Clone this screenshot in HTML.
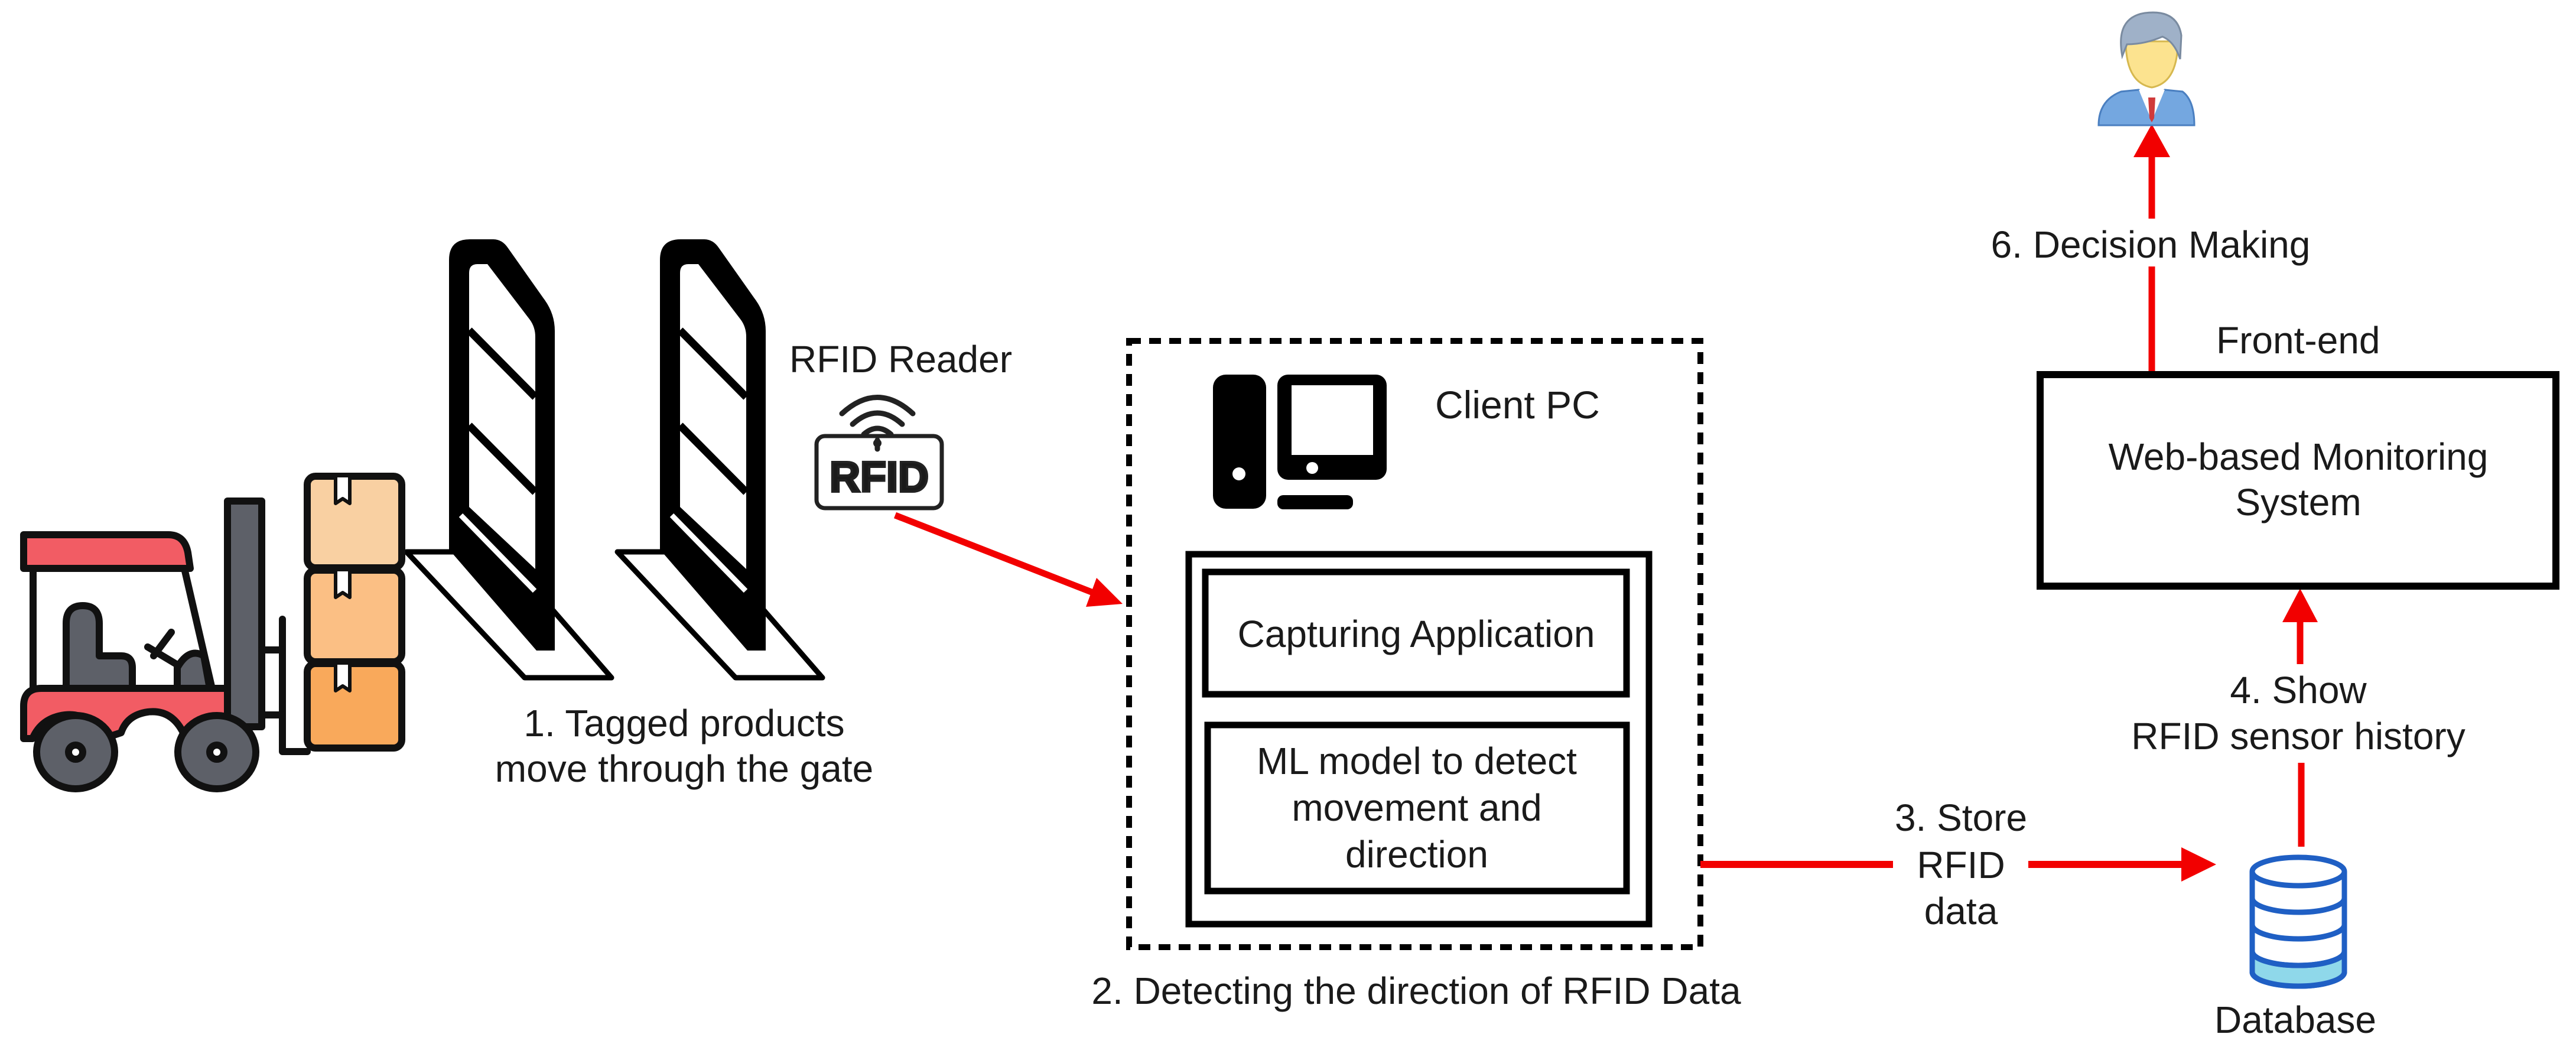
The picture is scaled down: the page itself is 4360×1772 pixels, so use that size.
<!DOCTYPE html>
<html><head><meta charset="utf-8"><style>
html,body{margin:0;padding:0;background:#fff;}
svg{display:block;}
text{font-family:"Liberation Sans",Arial,sans-serif;fill:#1a1a1a;}
</style></head><body>
<svg width="4360" height="1772" viewBox="0 0 4360 1772" xmlns="http://www.w3.org/2000/svg">
<rect width="4360" height="1772" fill="#fff"/>

<!-- Gate bases -->
<g id="gate">
<polygon points="688,934 850,934 1035,1147 888,1147" fill="#fff" stroke="#000" stroke-width="9" stroke-linejoin="round"/>
<path d="M760,440 Q760,405 795,405 L835,405 Q850,405 860,420 L920,505 Q939,530 939,560 L939,1101 L908,1101 L760,930 Z" fill="#000"/>
<path d="M794,462 Q794,447 808,447 L825,447 L896,540 Q906,553 906,570 L906,963 L794,858 Z" fill="#fff"/>
<line x1="794" y1="559" x2="906" y2="672" stroke="#000" stroke-width="13"/>
<line x1="794" y1="720" x2="906" y2="833" stroke="#000" stroke-width="13"/>
<line x1="780" y1="872" x2="905" y2="1000" stroke="#fff" stroke-width="9"/>
</g>
<use href="#gate" x="357" y="0"/>

<!-- Forklift -->
<g stroke="#111" stroke-width="12" stroke-linejoin="round" stroke-linecap="round">
<!-- cab frame -->
<line x1="56" y1="960" x2="56" y2="1165" />
<line x1="312" y1="962" x2="360" y2="1170"/>
<!-- canopy -->
<path d="M40,905 L285,905 Q312,905 318,935 L322,962 L40,962 Z" fill="#f25c64"/>
<!-- mast -->
<rect x="385" y="848" width="58" height="382" fill="#5d6068"/>
<!-- fork -->
<path d="M478,1048 L478,1272 L520,1272" fill="none"/>
<line x1="443" y1="1100" x2="478" y2="1100"/>
<line x1="443" y1="1210" x2="478" y2="1210"/>
<!-- seat -->
<path d="M112,1055 Q112,1025 140,1025 Q168,1025 168,1055 L168,1110 L205,1110 Q224,1110 224,1130 L224,1165 L112,1165 Z" fill="#5d6068"/>
<!-- steering -->
<line x1="290" y1="1070" x2="260" y2="1110"/>
<line x1="250" y1="1095" x2="300" y2="1125"/>
<path d="M300,1165 L300,1130 Q320,1095 345,1110 L355,1165 Z" fill="#5d6068"/>
<!-- body -->
<path d="M40,1195 Q40,1165 70,1165 L385,1165 L385,1240 L310,1240 Q290,1200 250,1205 Q215,1210 205,1240 L175,1250 Q150,1205 110,1210 Q70,1215 55,1250 L40,1250 Z" fill="#f25c64"/>
<!-- wheels -->
<ellipse cx="128" cy="1273" rx="66" ry="62" fill="#5d6068"/>
<circle cx="128" cy="1273" r="12" fill="#fff"/>
<ellipse cx="367" cy="1273" rx="66" ry="62" fill="#5d6068"/>
<circle cx="367" cy="1273" r="12" fill="#fff"/>
<!-- boxes -->
<rect x="520" y="1123" width="160" height="143" rx="14" fill="#f9a95b"/>
<rect x="520" y="965" width="160" height="155" rx="14" fill="#fbbf84"/>
<rect x="520" y="806" width="160" height="155" rx="14" fill="#f9d0a2"/>
</g>
<g fill="#fff" stroke="#111" stroke-width="6" stroke-linejoin="round">
<path d="M568,808 L568,852 L580,844 L592,852 L592,808"/>
<path d="M568,967 L568,1011 L580,1003 L592,1011 L592,967"/>
<path d="M568,1125 L568,1169 L580,1161 L592,1169 L592,1125"/>
</g>

<text x="1158" y="1246" font-size="64" text-anchor="middle">1. Tagged products</text>
<text x="1158" y="1323" font-size="64" text-anchor="middle">move through the gate</text>

<!-- RFID reader -->
<text x="1336" y="630" font-size="64">RFID Reader</text>
<g fill="none" stroke="#222" stroke-width="9" stroke-linecap="round">
<path d="M1425,700 Q1485,645 1545,700"/>
<path d="M1443,718 Q1485,680 1527,718"/>
<path d="M1462,735 Q1485,715 1508,735"/>
<line x1="1485" y1="745" x2="1485" y2="760"/>
<rect x="1382" y="738" width="212" height="122" rx="14" stroke-width="7"/>
</g>
<circle cx="1485" cy="750" r="7" fill="#222"/>
<text x="1488" y="832" font-size="72" font-weight="bold" text-anchor="middle" fill="#fff" stroke="#222" stroke-width="4">RFID</text>

<!-- arrow 1 -->
<line x1="1515" y1="872" x2="1850" y2="1003" stroke="#f20000" stroke-width="11"/>
<polygon points="1900,1022 1838,1027 1856,978" fill="#f20000"/>

<!-- Client PC dashed box -->
<rect x="1911" y="577" width="967" height="1026" fill="none" stroke="#000" stroke-width="10" stroke-dasharray="20 14"/>
<!-- computer icon -->
<rect x="2053" y="634" width="90" height="227" rx="22" fill="#000"/>
<circle cx="2097" cy="802" r="11" fill="#fff"/>
<rect x="2162" y="634" width="185" height="178" rx="18" fill="#000"/>
<rect x="2186" y="652" width="138" height="118" fill="#fff"/>
<rect x="2162" y="652" width="24" height="118" fill="#000"/>
<circle cx="2221" cy="792" r="10" fill="#fff"/>
<rect x="2162" y="838" width="128" height="24" rx="10" fill="#000"/>
<text x="2429" y="708" font-size="66">Client PC</text>

<rect x="2012" y="938" width="779" height="626" fill="none" stroke="#000" stroke-width="11"/>
<rect x="2040" y="968" width="713" height="207" fill="none" stroke="#000" stroke-width="11"/>
<text x="2397" y="1095" font-size="64" text-anchor="middle">Capturing Application</text>
<rect x="2044" y="1227" width="709" height="281" fill="none" stroke="#000" stroke-width="11"/>
<text x="2398" y="1310" font-size="64" text-anchor="middle">ML model to detect</text>
<text x="2398" y="1389" font-size="64" text-anchor="middle">movement and</text>
<text x="2398" y="1468" font-size="64" text-anchor="middle">direction</text>
<text x="2397" y="1699" font-size="64" text-anchor="middle">2. Detecting the direction of RFID Data</text>

<!-- arrow 3 -->
<line x1="2878" y1="1463" x2="3204" y2="1463" stroke="#f20000" stroke-width="12"/>
<line x1="3433" y1="1463" x2="3700" y2="1463" stroke="#f20000" stroke-width="12"/>
<polygon points="3751,1463 3692,1434 3692,1492" fill="#f20000"/>
<text x="3319" y="1406" font-size="64" text-anchor="middle">3. Store</text>
<text x="3319" y="1486" font-size="64" text-anchor="middle">RFID</text>
<text x="3319" y="1564" font-size="64" text-anchor="middle">data</text>

<!-- Database -->
<g fill="#fff" stroke="#1f5fc4" stroke-width="9">
<path d="M3812,1475 L3812,1645 A78,24 0 0 0 3968,1645 L3968,1475" fill="#fff"/>
<path d="M3812,1610 L3812,1645 A78,24 0 0 0 3968,1645 L3968,1610 A78,24 0 0 1 3812,1610 Z" fill="#8fd8ea"/>
<ellipse cx="3890" cy="1475" rx="78" ry="24"/>
<path d="M3812,1520 A78,24 0 0 0 3968,1520" fill="none"/>
<path d="M3812,1565 A78,24 0 0 0 3968,1565" fill="none"/>
<path d="M3812,1610 A78,24 0 0 0 3968,1610" fill="none"/>
</g>
<text x="3885" y="1748" font-size="64" text-anchor="middle">Database</text>

<!-- arrow 4 -->
<line x1="3895" y1="1433" x2="3895" y2="1291" stroke="#f20000" stroke-width="11"/>
<line x1="3893" y1="1124" x2="3893" y2="1045" stroke="#f20000" stroke-width="11"/>
<polygon points="3893,996 3863,1053 3923,1053" fill="#f20000"/>
<text x="3890" y="1190" font-size="64" text-anchor="middle">4. Show</text>
<text x="3890" y="1268" font-size="64" text-anchor="middle">RFID sensor history</text>

<!-- Web box -->
<rect x="3453" y="634" width="873" height="358" fill="none" stroke="#000" stroke-width="12"/>
<text x="3890" y="795" font-size="64" text-anchor="middle">Web-based Monitoring</text>
<text x="3890" y="872" font-size="64" text-anchor="middle">System</text>
<text x="3751" y="598" font-size="64">Front-end</text>

<!-- arrow 6 -->
<line x1="3642" y1="628" x2="3642" y2="451" stroke="#f20000" stroke-width="11"/>
<line x1="3642" y1="370" x2="3642" y2="255" stroke="#f20000" stroke-width="11"/>
<polygon points="3642,210 3611,266 3673,266" fill="#f20000"/>
<text x="3640" y="436" font-size="64" text-anchor="middle">6. Decision Making</text>

<!-- person -->
<g stroke-width="3">
<path d="M3552,212 Q3552,170 3590,155 L3620,152 L3642,175 L3664,152 L3694,155 Q3714,170 3714,212 Z" fill="#74a7e0" stroke="#4a7fc0"/>
<polygon points="3620,152 3664,152 3642,205" fill="#fff"/>
<polygon points="3636,165 3648,165 3646,200 3642,207 3638,200" fill="#d03a3a"/>
<path d="M3598,70 Q3598,140 3642,148 Q3686,140 3686,70 Z" fill="#fce38f" stroke="#d6b84f"/>
<path d="M3592,95 Q3580,30 3630,22 Q3685,15 3692,60 L3690,100 Q3680,70 3660,62 Q3630,75 3600,75 Z" fill="#9fb1c8" stroke="#7a8ba0"/>
</g>
</svg>
</body></html>
